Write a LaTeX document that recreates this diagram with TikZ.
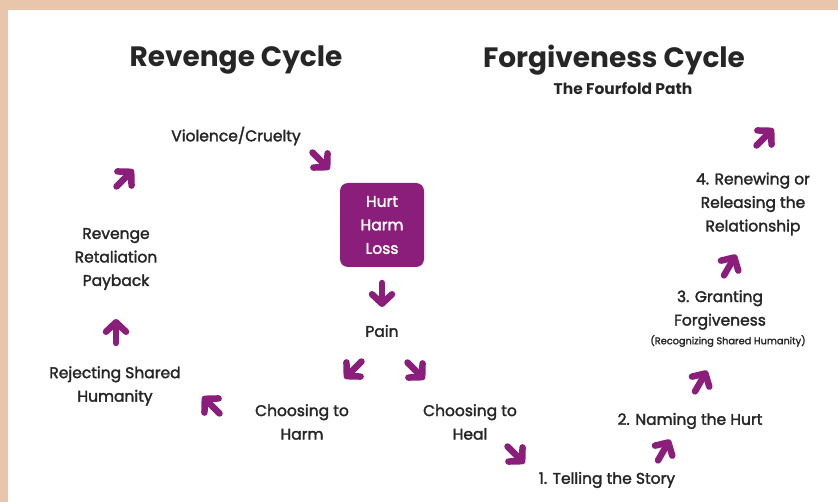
\documentclass[tikz,border=0pt]{standalone}
\usepackage{fontspec}
\setmainfont{Poppins}
\newfontfamily\medfont{Poppins}[FakeBold=2]
\usetikzlibrary{arrows.meta}

\definecolor{plum}{RGB}{138,30,122}
\definecolor{sand}{RGB}{233,197,172}
\definecolor{ink}{RGB}{38,38,38}

\begin{document}
\begin{tikzpicture}[x=1pt, y=1pt,
  title/.style={text=ink, font=\fontsize{28}{32}\selectfont\bfseries},
  subtitle/.style={text=ink, font=\fontsize{15.5}{17}\selectfont\bfseries},
  label/.style={text=ink, align=center, font=\fontsize{15.5}{23.5}\selectfont\medfont},
  hurtbox/.style={fill=plum, text=white, rounded corners=8pt, minimum size=84pt,
    align=center, font=\fontsize{15.5}{23.5}\selectfont\medfont},
  cue/.style={draw=plum, line width=6.5pt, line cap=round,
    -{Straight Barb[length=9.5pt, width=20pt, round]}}]
% Background
\fill[white] (0,0) rectangle (838,-502);
\fill[sand] (0,0) rectangle (838,-10);
\fill[sand] (0,0) rectangle (8,-502);
\useasboundingbox (0,0) rectangle (838,-502);

% Titles
\node[title] (revenge) at (236,-60) {Revenge Cycle};
\node[title] (forgive) at (614,-60) {Forgiveness Cycle};
\node[subtitle] (path) at (623,-88) {The Fourfold Path};

% Revenge side
\node[hurtbox] (hurt) at (382,-225) {Hurt\\Harm\\Loss};
\node[label] (pain) at (382,-331) {Pain};
\node[label] (harm) at (302,-422) {Choosing to\\Harm};
\node[label] (reject) at (115,-386) {Rejecting Shared\\Humanity};
\node[label] (payback) at (116,-259) {Revenge\\Retaliation\\Payback};
\node[label] (violence) at (236,-136) {Violence/Cruelty};

% Forgiveness side
\node[label] (heal) at (470,-422) {Choosing to\\Heal};
\node[label] (story) at (607,-480) {1. Telling the Story};
\node[label] (naming) at (690,-421) {2. Naming the Hurt};
\node[label] (granting) at (720,-310) {3. Granting\\Forgiveness};
\node[text=ink, font=\fontsize{9.75}{10}\selectfont\medfont] (shared) at (728,-341) {(Recognizing Shared Humanity)};
\node[label] (renewing) at (753,-204) {4. Renewing or\\Releasing the\\Relationship};

% Arrows
\foreach \x/\y/\a in {321/-161/-45, 125/-178/45, 116/-331/90, 211/-405/135,
  382/-295/-90, 353/-370/-135, 416/-371/-45, 516/-455/-45,
  664/-450/60, 701/-381/60, 730/-265/60, 765/-137/45}
  {\draw[cue] (\x,\y) ++(\a+180:12) -- ++(\a:24);}
\end{tikzpicture}
\end{document}
